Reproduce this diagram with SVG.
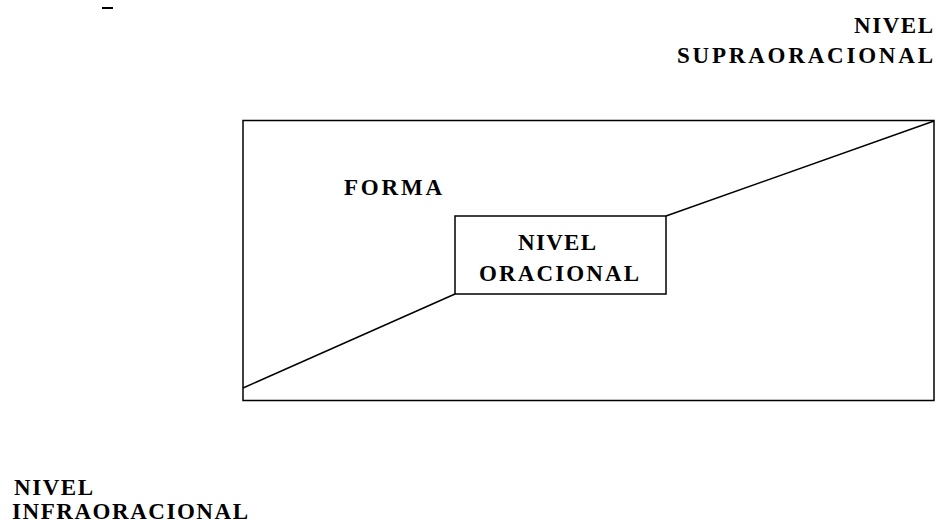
<svg xmlns="http://www.w3.org/2000/svg" width="937" height="526" viewBox="0 0 937 526">
<style>
.t{font-family:"Liberation Serif","Times New Roman",serif;font-weight:bold;font-size:23px;fill:#000}
.s{fill:none;stroke:#000;stroke-width:1.5}
</style>
<rect width="937" height="526" fill="#fff"/>
<line x1="102" y1="8" x2="113" y2="8" stroke="#000" stroke-width="2"/>
<g id="outer">
<rect class="s" x="243" y="120.5" width="691" height="280"/>
<text class="t" x="344" y="195" textLength="98" lengthAdjust="spacing">FORMA</text>
</g>
<g id="connectors">
<line class="s" x1="243" y1="388" x2="455" y2="294"/>
<line class="s" x1="666" y1="216" x2="934" y2="121"/>
</g>
<g id="nivel-oracional">
<rect class="s" x="455" y="216" width="211" height="78"/>
<text class="t" x="518" y="250" textLength="78" lengthAdjust="spacing">NIVEL</text>
<text class="t" x="479" y="281" textLength="160" lengthAdjust="spacing">ORACIONAL</text>
</g>
<g id="supra">
<text class="t" x="854" y="33" textLength="79" lengthAdjust="spacing">NIVEL</text>
<text class="t" x="677" y="63" textLength="256" lengthAdjust="spacing">SUPRAORACIONAL</text>
</g>
<g id="infra">
<text class="t" x="14" y="495" textLength="79" lengthAdjust="spacing">NIVEL</text>
<text class="t" x="12" y="519" textLength="236" lengthAdjust="spacing">INFRAORACIONAL</text>
</g>
</svg>
